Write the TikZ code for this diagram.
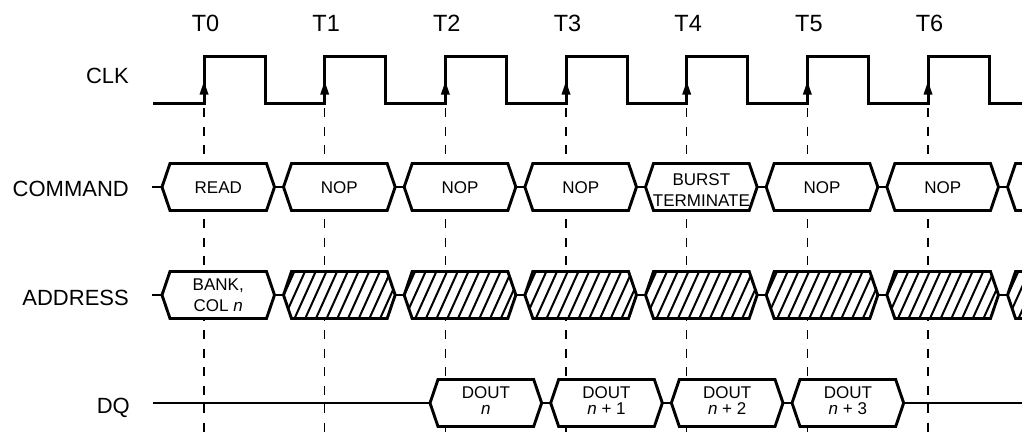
\documentclass[tikz,border=0pt]{standalone}
\usepackage{fontspec}
\setmainfont{Liberation Sans}
\begin{document}
\begin{tikzpicture}[x=1pt,y=-1pt,
  guide/.style={line width=1.2pt, dash pattern=on 9pt off 9.5pt},
  sig/.style={line width=3pt, line join=miter, line cap=butt},
  bus/.style={line width=2.9pt, line join=miter},
  hatchline/.style={line width=2pt},
  tlabel/.style={inner sep=0pt, anchor=base, font=\fontsize{23.5}{28}\selectfont},
  rowlabel/.style={inner sep=0pt, anchor=base east, font=\fontsize{22}{26}\selectfont},
  intext/.style={inner sep=0pt, anchor=base, font=\fontsize{17}{20}\selectfont}]
\fill[white] (0,0) rectangle (1022,437);
\useasboundingbox (0,0) rectangle (1022,437);

% ---------- guides ----------
\foreach \k in {0,...,6} {
  \pgfmathsetmacro\xx{204+120.67*\k}
  \coordinate (gt\k) at (\xx,108);
  \coordinate (gb\k) at (\xx,437);
  \draw[guide] (gt\k) -- (gb\k);
  \node[tlabel] (t\k) at ({\xx+1.5},31) {T\k};
}

% ---------- row labels ----------
\node[rowlabel] (lclk) at (129,83) {CLK};
\node[rowlabel] (lcmd) at (129,196) {COMMAND};
\node[rowlabel] (ladr) at (129,305) {ADDRESS};
\node[rowlabel] (ldq)  at (130,413) {DQ};

% ---------- clock ----------
\draw[sig] (153,103) foreach \k in {0,...,6} {
   -- ({204+120.67*\k},103) -- ({204+120.67*\k},56)
   -- ({265+120.67*\k},56) -- ({265+120.67*\k},103) } -- (1023,103);
\foreach \k in {0,...,6} {
  \pgfmathsetmacro\xx{204+120.67*\k}
  \fill (\xx-4.5,94.5) -- (\xx,81.5) -- (\xx+4.5,94.5) -- cycle;
}

% ---------- COMMAND bus (top 163.5, mid 187, bottom 210.5) ----------
\def\ct{163.5}\def\cm{187}\def\cb{210.5}
\draw[bus] (152,\cm) -- (162,\cm);
\filldraw[bus,fill=white] (162,\cm) -- (170,\ct) -- (266.5,\ct) -- (274.5,\cm) -- (266.5,\cb) -- (170,\cb) -- cycle;
\foreach \k in {1,...,6} {
  \pgfmathsetmacro\a{279+120.67*(\k-1)+4.5}
  \pgfmathsetmacro\b{279+120.67*\k-4.5}
  \filldraw[bus,fill=white] (\a,\cm) -- (\a+8,\ct) -- (\b-8,\ct) -- (\b,\cm) -- (\b-8,\cb) -- (\a+8,\cb) -- cycle;
}
\foreach \k in {0,...,6} {
  \pgfmathsetmacro\xx{279+120.67*\k}
  \draw[bus] (\xx-4.6,\cm) -- (\xx+4.6,\cm);
}
\pgfmathsetmacro\ea{279+120.67*6+4.5}
\fill[white] (\ea,\cm) -- (\ea+8,\ct) -- (1023,\ct) -- (1023,\cb) -- (\ea+8,\cb) -- cycle;
\draw[bus] (1024,\ct) -- (\ea+8,\ct) -- (\ea,\cm) -- (\ea+8,\cb) -- (1024,\cb);

\node[intext] (c0) at (218.25,193) {READ};
\node[intext] (c1) at ({279+120.67*0.5},193) {NOP};
\node[intext] (c2) at ({279+120.67*1.5},193) {NOP};
\node[intext] (c3) at ({279+120.67*2.5},193) {NOP};
\node[intext] (c4a) at ({279+120.67*3.5},185) {BURST};
\node[intext] (c4b) at ({279+120.67*3.5},206.7) {TERMINATE};
\node[intext] (c5) at ({279+120.67*4.5},193) {NOP};
\node[intext] (c6) at ({279+120.67*5.5},193) {NOP};

% ---------- ADDRESS bus (top 271.5, mid 295, bottom 318.5) ----------
\def\at{271.5}\def\am{295}\def\ab{318.5}
\draw[bus] (152,\am) -- (162,\am);
\filldraw[bus,fill=white] (162,\am) -- (170,\at) -- (266.5,\at) -- (274.5,\am) -- (266.5,\ab) -- (170,\ab) -- cycle;
\foreach \k in {1,...,6} {
  \pgfmathsetmacro\a{279+120.67*(\k-1)+4.5}
  \pgfmathsetmacro\b{279+120.67*\k-4.5}
  \fill[white] (\a,\am) -- (\a+8,\at) -- (\b-8,\at) -- (\b,\am) -- (\b-8,\ab) -- (\a+8,\ab) -- cycle;
  \begin{scope}
    \clip (\a,\am) -- (\a+8,\at) -- (\b-8,\at) -- (\b,\am) -- (\b-8,\ab) -- (\a+8,\ab) -- cycle;
    \foreach \s in {-22,-11.3,...,125} {
      \draw[hatchline] (\a+\s,\ab+2) -- (\a+\s+23,\at-2);
    }
  \end{scope}
  \draw[bus] (\a,\am) -- (\a+8,\at) -- (\b-8,\at) -- (\b,\am) -- (\b-8,\ab) -- (\a+8,\ab) -- cycle;
}
\foreach \k in {0,...,6} {
  \pgfmathsetmacro\xx{279+120.67*\k}
  \draw[bus] (\xx-4.6,\am) -- (\xx+4.6,\am);
}
\fill[white] (\ea,\am) -- (\ea+8,\at) -- (1023,\at) -- (1023,\ab) -- (\ea+8,\ab) -- cycle;
\begin{scope}
  \clip (\ea,\am) -- (\ea+8,\at) -- (1023,\at) -- (1023,\ab) -- (\ea+8,\ab) -- cycle;
  \foreach \s in {-22,-11.3,...,30} {
    \draw[hatchline] (\ea+\s,\ab+2) -- (\ea+\s+23,\at-2);
  }
\end{scope}
\draw[bus] (1024,\at) -- (\ea+8,\at) -- (\ea,\am) -- (\ea+8,\ab) -- (1024,\ab);

\node[intext] (a0a) at (218.25,290) {BANK,};
\node[intext] (a0b) at (218.25,311.7) {COL \textit{n}};

% ---------- DQ bus (top 379.5, mid 403, bottom 426.5) ----------
\def\dt{379.5}\def\dm{403}\def\db{426.5}
\draw[bus] (153,\dm) -- (430.5,\dm);
\foreach \k in {0,...,3} {
  \pgfmathsetmacro\a{425.5+120.67*\k+4.5}
  \pgfmathsetmacro\b{425.5+120.67*(\k+1)-4.5}
  \filldraw[bus,fill=white] (\a,\dm) -- (\a+8,\dt) -- (\b-8,\dt) -- (\b,\dm) -- (\b-8,\db) -- (\a+8,\db) -- cycle;
}
\foreach \k in {1,...,3} {
  \pgfmathsetmacro\xx{425.5+120.67*\k}
  \draw[bus] (\xx-4.6,\dm) -- (\xx+4.6,\dm);
}
\draw[bus] ({425.5+120.67*4-4.5},\dm) -- (1023,\dm);

\node[intext] (d0a) at ({425.5+120.67*0.5},398.5) {DOUT};
\node[intext] (d0b) at ({425.5+120.67*0.5},414.5) {\textit{n}};
\node[intext] (d1a) at ({425.5+120.67*1.5},398.5) {DOUT};
\node[intext] (d1b) at ({425.5+120.67*1.5},414.5) {\textit{n} + 1};
\node[intext] (d2a) at ({425.5+120.67*2.5},398.5) {DOUT};
\node[intext] (d2b) at ({425.5+120.67*2.5},414.5) {\textit{n} + 2};
\node[intext] (d3a) at ({425.5+120.67*3.5},398.5) {DOUT};
\node[intext] (d3b) at ({425.5+120.67*3.5},414.5) {\textit{n} + 3};
\end{tikzpicture}
\end{document}
